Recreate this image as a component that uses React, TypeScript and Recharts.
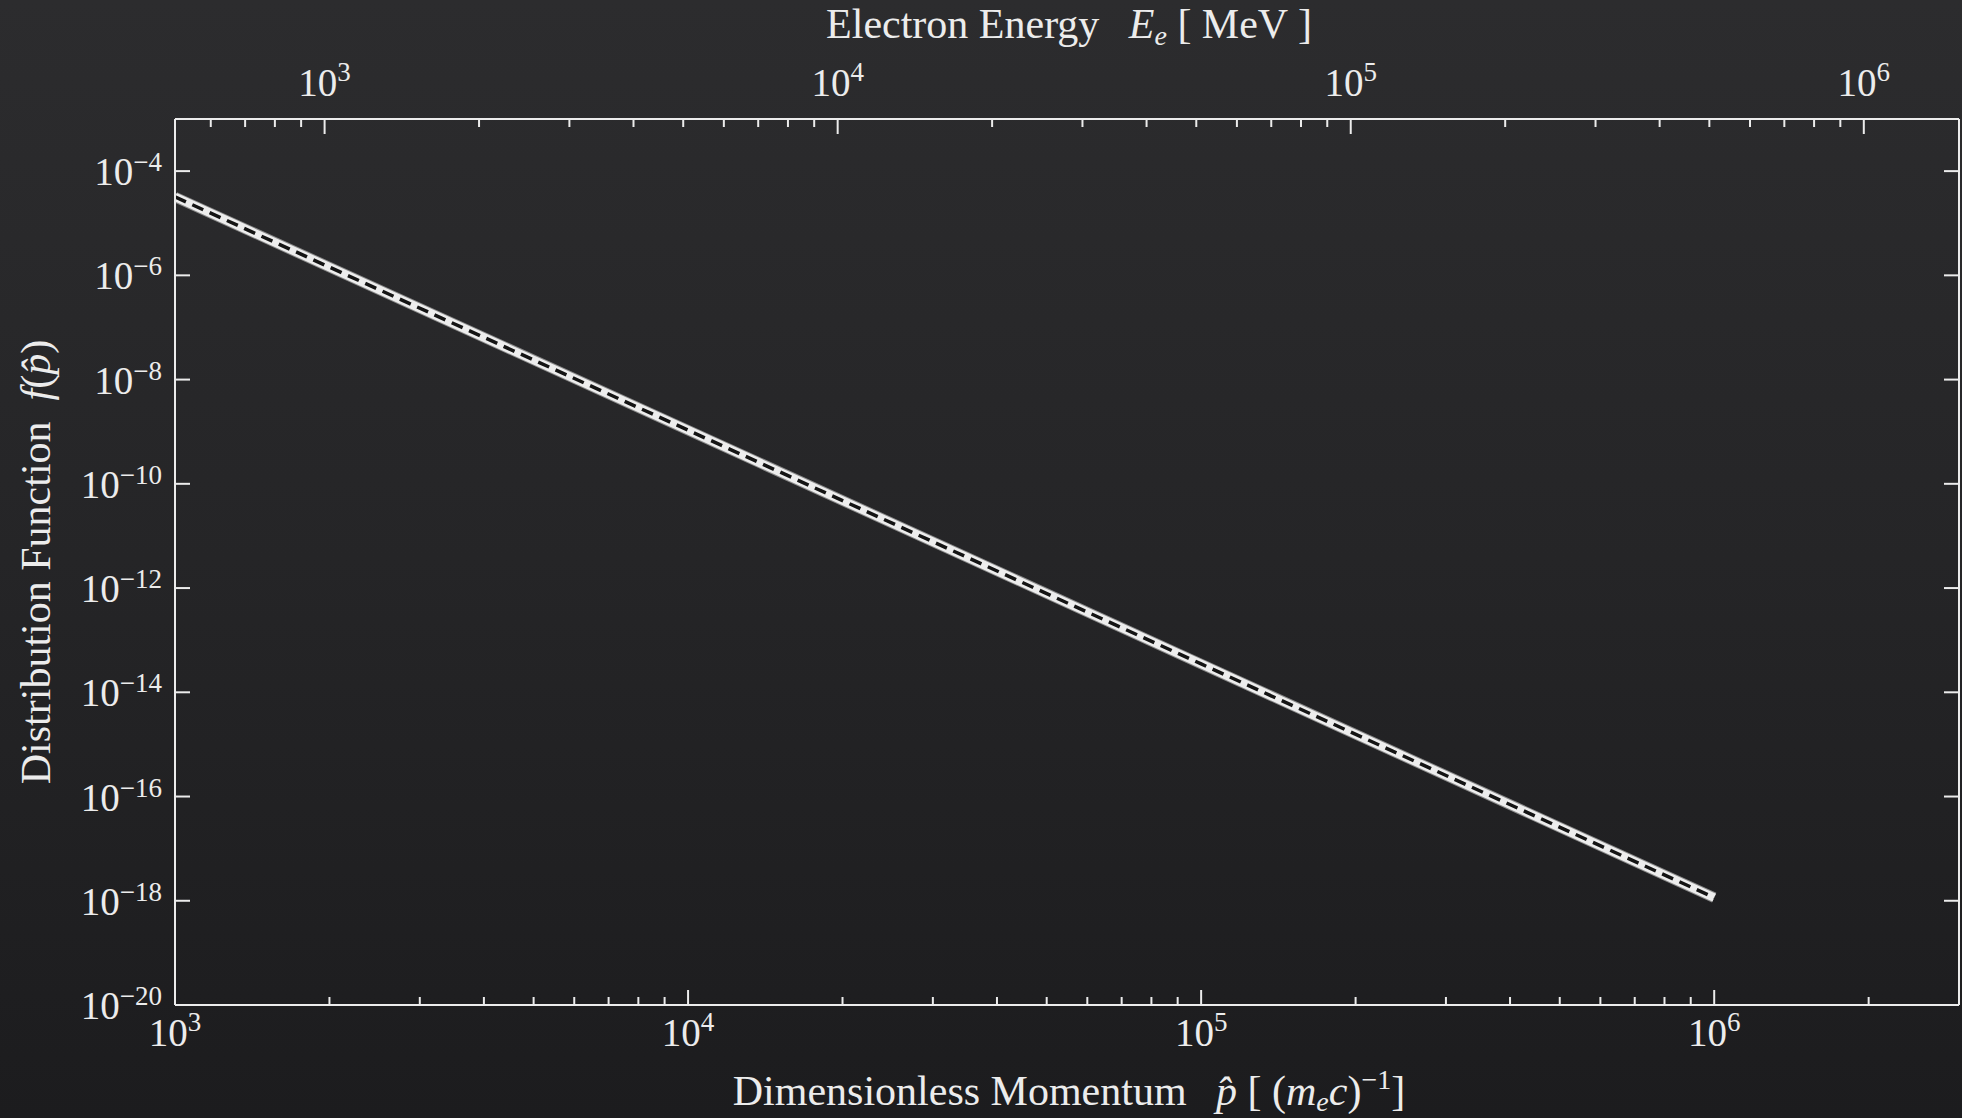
import React from "react";
import { LineChart, Line, XAxis, YAxis } from "recharts";

// momentum p̂ and distribution f(p̂)
const momentum = [1e3, 1e4, 1e5, 1e6];
const distribution = [3.2e-5, 1.07e-9, 3.5e-14, 1.15e-18];

const xMajor = [1e3, 1e4, 1e5, 1e6];
const topMajor = [1e3, 1e4, 1e5, 1e6];
const yMajor = [1e-20, 1e-18, 1e-16, 1e-14, 1e-12, 1e-10, 1e-8, 1e-6, 1e-4];

const ME_C2 = 0.511; // MeV, for the energy axis on top
const P_DOMAIN: [number, number] = [1e3, 3e6];
const E_DOMAIN: [number, number] = [P_DOMAIN[0] * ME_C2, P_DOMAIN[1] * ME_C2];
const F_DOMAIN: [number, number] = [1e-20, 1e-3];

const data = momentum.map((p, i) => ({ p, f: distribution[i] }));
const energyData = momentum.map((p, i) => ({ E: p * ME_C2, f: distribution[i] }));

const W = 1962;
const H = 1118;
const FONT = "'Liberation Serif', 'Times New Roman', serif";
const INK = "#ececec";

function withMinors(majors: number[], lo: number, hi: number) {
  const out: number[] = [];
  for (let e = -1; e < majors.length; e++) {
    const base = e < 0 ? majors[0] / 10 : majors[e];
    for (let m = 1; m <= 9; m++) {
      const v = base * m;
      if (v >= lo && v <= hi * 1.0001) out.push(v);
    }
  }
  return out;
}

const xTicks = withMinors(xMajor, P_DOMAIN[0], 2e6);
const topTicks = withMinors(topMajor, 600, 1e6);

const isPow10 = (v: number) => Math.abs(Math.log10(v) - Math.round(Math.log10(v))) < 1e-6;
const expOf = (v: number) => {
  const e = Math.round(Math.log10(v));
  return e < 0 ? "\u2212" + Math.abs(e) : String(e);
};

function BottomTick({ x, y, payload }: any) {
  const v = payload.value;
  const major = isPow10(v);
  return (
    <g>
      <line x1={x} x2={x} y1={y} y2={y - (major ? 15 : 8)} stroke={INK} strokeWidth={2} />
      {major && (
        <text x={x} y={y + 41} textAnchor="middle" fill={INK} fontFamily={FONT} fontSize={39}>
          10<tspan dy={-15} fontSize={27}>{expOf(v)}</tspan>
        </text>
      )}
    </g>
  );
}

function TopTick({ x, y, payload }: any) {
  const v = payload.value;
  const major = isPow10(v);
  return (
    <g>
      <line x1={x} x2={x} y1={y} y2={y + (major ? 15 : 8)} stroke={INK} strokeWidth={2} />
      {major && (
        <text x={x} y={y - 23} textAnchor="middle" fill={INK} fontFamily={FONT} fontSize={39}>
          10<tspan dy={-15} fontSize={27}>{expOf(v)}</tspan>
        </text>
      )}
    </g>
  );
}

function LeftTick({ x, y, payload }: any) {
  return (
    <g>
      <line x1={x} x2={x + 15} y1={y} y2={y} stroke={INK} strokeWidth={2} />
      <text x={x - 13} y={y + 14} textAnchor="end" fill={INK} fontFamily={FONT} fontSize={39}>
        10<tspan dy={-14} fontSize={27}>{expOf(payload.value)}</tspan>
      </text>
    </g>
  );
}

function RightTick({ x, y }: any) {
  return <line x1={x} x2={x - 15} y1={y} y2={y} stroke={INK} strokeWidth={2} />;
}

export default function App() {
  return (
    <div
      style={{
        position: "absolute",
        left: 0,
        top: 0,
        width: W,
        height: H,
        background: "linear-gradient(to bottom, #2c2c2e 0%, #252527 50%, #1c1c1e 100%)",
        overflow: "hidden",
      }}
    >
      <LineChart width={W} height={H} data={data} margin={{ top: 59, right: 1, bottom: 53, left: 75 }}>
        <XAxis
          xAxisId="bottom"
          dataKey="p"
          type="number"
          scale="log"
          domain={P_DOMAIN}
          allowDataOverflow
          ticks={xTicks}
          interval={0}
          height={60}
          tickSize={0}
          tickMargin={0}
          tickLine={false}
          axisLine={{ stroke: INK, strokeWidth: 2 }}
          tick={(props: any) => <BottomTick {...props} />}
        />
        <XAxis
          xAxisId="top"
          dataKey="E"
          orientation="top"
          type="number"
          scale="log"
          domain={E_DOMAIN}
          allowDataOverflow
          ticks={topTicks}
          interval={0}
          height={60}
          tickSize={0}
          tickMargin={0}
          tickLine={false}
          axisLine={{ stroke: INK, strokeWidth: 2 }}
          tick={(props: any) => <TopTick {...props} />}
        />
        <YAxis
          yAxisId="left"
          type="number"
          scale="log"
          domain={F_DOMAIN}
          allowDataOverflow
          ticks={yMajor}
          interval={0}
          width={100}
          tickSize={0}
          tickMargin={0}
          tickLine={false}
          axisLine={{ stroke: INK, strokeWidth: 2 }}
          tick={(props: any) => <LeftTick {...props} />}
        />
        <YAxis
          yAxisId="right"
          orientation="right"
          type="number"
          scale="log"
          domain={F_DOMAIN}
          allowDataOverflow
          ticks={yMajor}
          interval={0}
          width={2}
          tickSize={0}
          tickMargin={0}
          tickLine={false}
          axisLine={{ stroke: INK, strokeWidth: 2 }}
          tick={(props: any) => <RightTick {...props} />}
        />
        {/* invisible series so the energy axis gets laid out */}
        <Line
          xAxisId="top"
          yAxisId="right"
          data={energyData}
          dataKey="f"
          stroke="none"
          dot={false}
          activeDot={false}
          isAnimationActive={false}
        />
        <Line
          xAxisId="bottom"
          yAxisId="left"
          dataKey="f"
          type="linear"
          stroke="#8a8a8a"
          strokeWidth={10.5}
          dot={false}
          activeDot={false}
          isAnimationActive={false}
        />
        <Line
          xAxisId="bottom"
          yAxisId="left"
          dataKey="f"
          type="linear"
          stroke="#ededed"
          strokeWidth={8.5}
          dot={false}
          activeDot={false}
          isAnimationActive={false}
        />
        <Line
          xAxisId="bottom"
          yAxisId="left"
          dataKey="f"
          type="linear"
          stroke="#141414"
          strokeWidth={3.5}
          strokeDasharray="12 7"
          dot={false}
          activeDot={false}
          isAnimationActive={false}
        />
      </LineChart>
      <svg
        width={W}
        height={H}
        style={{ position: "absolute", left: 0, top: 0, pointerEvents: "none" }}
        fontFamily={FONT}
        fill={INK}
      >
        <text x={1069} y={38} textAnchor="middle" fontSize={42}>
          {"Electron Energy\u2002\u2009"}
          <tspan fontStyle="italic">E</tspan>
          <tspan fontStyle="italic" fontSize={28} dy={7}>e</tspan>
          <tspan dy={-7}>{" [ MeV ]"}</tspan>
        </text>
        <text x={1069} y={1105} textAnchor="middle" fontSize={42}>
          {"Dimensionless Momentum\u2002\u2009"}
          <tspan fontStyle="italic">{"p\u0302"}</tspan>
          {" [ ("}
          <tspan fontStyle="italic">m</tspan>
          <tspan fontStyle="italic" fontSize={28} dy={6}>e</tspan>
          <tspan fontStyle="italic" dy={-6}>c</tspan>
          {")"}
          <tspan fontSize={28} dy={-16}>{"\u22121"}</tspan>
          <tspan dy={16}>{"]"}</tspan>
        </text>
        <text transform="translate(50,562) rotate(-90)" textAnchor="middle" fontSize={42}>
          {"Distribution Function\u2002"}
          <tspan fontStyle="italic">f</tspan>
          {"("}
          <tspan fontStyle="italic">{"p\u0302"}</tspan>
          {")"}
        </text>
      </svg>
    </div>
  );
}
